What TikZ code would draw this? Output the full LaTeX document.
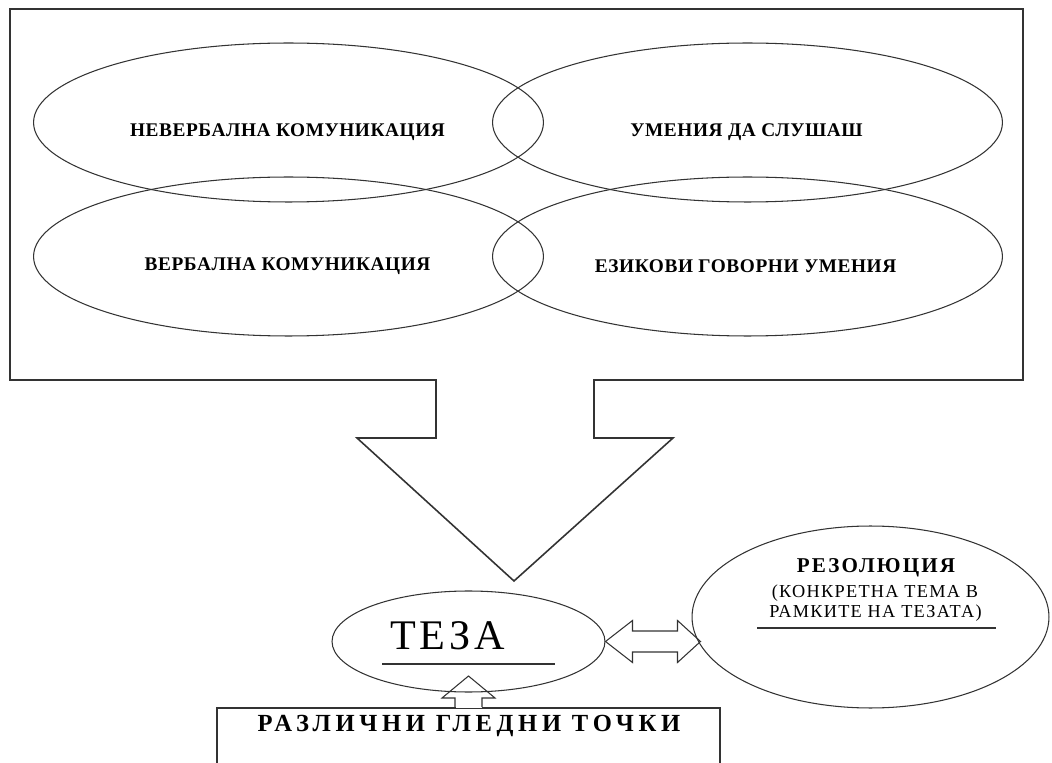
\documentclass[tikz,border=0pt]{standalone}
\usepackage{fontspec}
\setmainfont{Liberation Serif}
\usetikzlibrary{positioning,calc,shapes.geometric}

\begin{document}
\begin{tikzpicture}[x=0.02cm,y=-0.02cm,
        outline/.style={draw=black!80,line width=0.6pt},
        bubble/.style={outline,ellipse,inner sep=0pt,minimum width=10.2cm,minimum height=3.18cm},
        skill/.style={inner sep=0pt,font=\fontsize{11}{13}\selectfont\bfseries\addfontfeatures{LetterSpace=3}}]
        \useasboundingbox (0,0) rectangle (1052,763);
        % frame and the big arrow
        \draw[outline,line width=0.9pt] (436,380) -- (10,380) -- (10,9) -- (1023,9) -- (1023,380) -- (594,380)
            -- (594,438) -- (673,438) -- (514,581) -- (357,438) -- (436,438) -- cycle;

        \node[bubble] (nonverbal) at (288.5,122.5) {};
        \node[bubble] (listening) at (747.5,122.5) {};
        \node[bubble] (verbal) at (288.5,256.5) {};
        \node[bubble] (speaking) at (747.5,256.5) {};
        \node[skill] (nonverbal-t) at ($(nonverbal)+(-1,10)$) {НЕВЕРБАЛНА КОМУНИКАЦИЯ};
        \node[skill] (listening-t) at ($(listening)+(-1,10)$) {УМЕНИЯ ДА СЛУШАШ};
        \node[skill] (verbal-t) at ($(verbal)+(-1,10)$) {ВЕРБАЛНА КОМУНИКАЦИЯ};
        \node[skill] (speaking-t) at ($(speaking)+(-2,10)$) {ЕЗИКОВИ ГОВОРНИ УМЕНИЯ};

        % thesis
        \node[outline,ellipse,inner sep=0pt,minimum width=5.46cm,minimum height=2.02cm] (thesis) at (468.5,641.5) {};
        \node[inner sep=0pt,font=\fontsize{24}{26}\selectfont\addfontfeatures{LetterSpace=9}] (thesis-t) at ($(thesis)+(-21,-6)$) {ТЕЗА};
        \draw[outline] (382,664) -- (555,664);

        % resolution
        \node[outline,ellipse,inner sep=0pt,minimum width=7.14cm,minimum height=3.64cm] (resolution) at (870.5,617) {};
        \node[inner sep=0pt,font=\fontsize{12}{14}\selectfont\bfseries\addfontfeatures{LetterSpace=10}] (res-title) at (876,568) {РЕЗОЛЮЦИЯ};
        \node[inner sep=0pt,font=\fontsize{10.4}{12}\selectfont\addfontfeatures{LetterSpace=7}] (res-line1) at (875,593) {(КОНКРЕТНА ТЕМА В};
        \node[inner sep=0pt,font=\fontsize{10.4}{12}\selectfont\addfontfeatures{LetterSpace=7}] (res-line2) at (875.5,613) {РАМКИТЕ НА ТЕЗАТА)};
        \draw[outline] (757,628) -- (996,628);

        \draw[outline] (thesis.east) -- ++(27,-21) -- ++(0,10.5) -- ++(45,0) -- ++(0,-10.5) -- ++(23,21)
            -- ++(-23,21) -- ++(0,-10.5) -- ++(-45,0) -- ++(0,10.5) -- cycle;

        % points of view
        \node[outline,line width=0.9pt,minimum width=10.06cm,minimum height=2cm,anchor=north] (views) at (468.5,707) {};
        \node[inner sep=0pt,font=\fontsize{14}{16}\selectfont\bfseries\addfontfeatures{LetterSpace=19}] (views-t) at (469,726) {РАЗЛИЧНИ ГЛЕДНИ ТОЧКИ};
        \fill[white] ($(views.north)+(-13,-1)$) rectangle ($(views.north)+(13,1)$);
        \draw[outline] (views.north) ++(-13.5,0) -- ++(0,-9) -- ++(-13,0) -- ++(26.5,-22) -- ++(26.5,22) -- ++(-13,0) -- ++(0,9);
    \end{tikzpicture}
\end{document}
